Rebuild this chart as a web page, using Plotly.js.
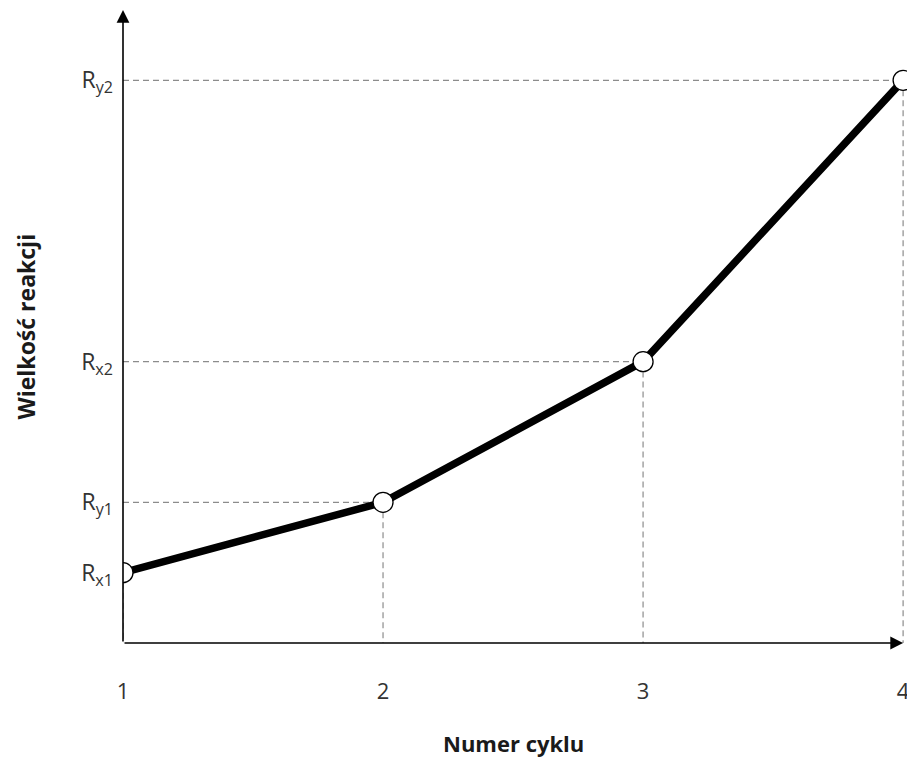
<!DOCTYPE html>
<html><head><meta charset="utf-8">
<script src="https://cdn.plot.ly/plotly-3.0.1.min.js"></script>
<style>html,body{margin:0;padding:0;background:#fff}#c{width:907px;height:758px}</style>
</head><body><div id="c"></div>
<script>
const cycles = [1, 2, 3, 4];
const responses = [1, 2, 4, 8];
const xTickLabels = ['1', '2', '3', '4'];
const yTickLabels = ['R<sub>x1</sub>', 'R<sub>y1</sub>', 'R<sub>x2</sub>', 'R<sub>y2</sub>'];
const xTitle = 'Numer cyklu';
const yTitle = 'Wielkość reakcji';

const traces = [];
cycles.forEach((c, i) => {
  traces.push({
    x: [cycles[0], c, c], y: [responses[i], responses[i], 0],
    mode: 'lines', line: {color: '#8c8c8c', width: 1.2, dash: '6px,4px'},
    hoverinfo: 'skip', showlegend: false
  });
});
traces.push({
  x: cycles, y: responses, mode: 'lines+markers',
  line: {color: '#000', width: 7.5},
  marker: {symbol: 'circle', size: 20, color: '#fff', line: {color: '#000', width: 1.3}},
  showlegend: false
});

const layout = {
  width: 907, height: 758,
  margin: {l: 123, r: 0, t: 10, b: 115},
  paper_bgcolor: '#fff', plot_bgcolor: '#fff',
  font: {family: 'Open Sans, Liberation Sans, sans-serif', color: '#333'},
  xaxis: {
    range: [1, 4.015], tickvals: cycles, ticktext: xTickLabels,
    showgrid: false, zeroline: false, showline: false, ticklabeloverflow: 'allow',
    ticks: '', ticklabelstandoff: 33, tickfont: {size: 22, color: '#333'}
  },
  yaxis: {
    range: [0, 9], tickvals: responses, ticktext: yTickLabels,
    showgrid: false, zeroline: false, showline: false,
    ticks: '', ticklabelstandoff: 9, tickfont: {size: 23, color: '#333'}
  },
  annotations: [
    {x: 4.0, y: 0, ax: 1, ay: 0, xref: 'x', yref: 'y', axref: 'x', ayref: 'y',
     text: '', showarrow: true, arrowhead: 2, arrowsize: 1.6, arrowwidth: 1.6, arrowcolor: '#000', standoff: 0},
    {x: 1, y: 9, ax: 1, ay: 0, xref: 'x', yref: 'y', axref: 'x', ayref: 'y',
     text: '', showarrow: true, arrowhead: 2, arrowsize: 1.6, arrowwidth: 1.6, arrowcolor: '#000', standoff: 0},
    {x: (513 - 123) / 784, y: -0.158, xref: 'paper', yref: 'paper', xanchor: 'center', yanchor: 'middle',
     text: '<b>' + xTitle + '</b>', showarrow: false, font: {size: 22, color: '#1a1a1a'}},
    {x: -0.125, y: 0.5, xref: 'paper', yref: 'paper', xanchor: 'center', yanchor: 'middle',
     textangle: -90, text: '<b>' + yTitle + '</b>', showarrow: false, font: {size: 23, color: '#1a1a1a'}}
  ]
};
Plotly.newPlot('c', traces, layout, {displayModeBar: false, staticPlot: true});
</script></body></html>
